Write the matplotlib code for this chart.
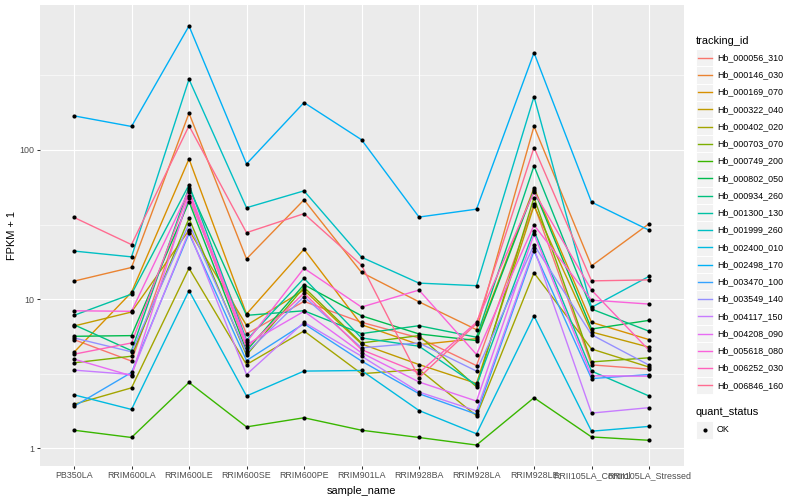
import matplotlib
matplotlib.use("Agg")
import matplotlib.pyplot as plt
import numpy as np
from matplotlib.patches import Rectangle
from matplotlib.lines import Line2D

plt.rcParams['font.family'] = ['Liberation Sans', 'DejaVu Sans']

samples = ["PB350LA", "RRIM600LA", "RRIM600LE", "RRIM600SE", "RRIM600PE",
           "RRIM901LA", "RRIM928BA", "RRIM928LA", "RRIM928LE",
           "RRII105LA_Control", "RRII105LA_Stressed"]

tracking_ids = ["Hb_000056_310", "Hb_000146_030", "Hb_000169_070", "Hb_000322_040",
                "Hb_000402_020", "Hb_000703_070", "Hb_000749_200", "Hb_000802_050",
                "Hb_000934_260", "Hb_001300_130", "Hb_001999_260", "Hb_002400_010",
                "Hb_002498_170", "Hb_003470_100", "Hb_003549_140", "Hb_004117_150",
                "Hb_004208_090", "Hb_005618_080", "Hb_006252_030", "Hb_006846_160"]

# FPKM + 1 per sample (order of `samples`)
hb_000056_310 = [5.35, 3.84, 47.3, 5.84, 9.65, 6.99, 5.49, 3.58, 43.1, 3.62, 3.39]
hb_000146_030 = [13.2, 16.3, 176.6, 18.6, 46.3, 15.1, 9.59, 6.24, 144.2, 16.7, 32.0]
hb_000169_070 = [4.40, 11.1, 87.1, 7.94, 21.6, 6.73, 4.95, 5.43, 55.7, 6.99, 5.35]
hb_000322_040 = [6.60, 8.19, 29.0, 6.67, 11.5, 5.00, 3.64, 2.72, 42.3, 6.02, 4.76]
hb_000402_020 = [1.97, 2.54, 16.1, 3.64, 6.11, 3.16, 3.37, 1.65, 15.0, 4.63, 3.50]
hb_000703_070 = [3.74, 4.14, 34.8, 4.21, 12.0, 5.08, 5.69, 2.58, 48.0, 3.79, 4.04]
hb_000749_200 = [1.32, 1.18, 2.76, 1.39, 1.60, 1.32, 1.18, 1.05, 2.18, 1.19, 1.13]
hb_000802_050 = [5.63, 5.69, 45.1, 4.51, 12.5, 7.73, 5.84, 5.27, 54.1, 6.30, 7.20]
hb_000934_260 = [6.73, 4.51, 56.0, 7.78, 8.35, 5.87, 6.63, 5.55, 78.2, 8.58, 6.09]
hb_001300_130 = [7.78, 10.8, 58.4, 5.30, 13.8, 5.49, 4.83, 2.65, 28.8, 3.29, 2.24]
hb_001999_260 = [21.0, 19.2, 298.0, 41.0, 53.2, 19.1, 12.8, 12.3, 228.0, 8.80, 14.2]
hb_002400_010 = [2.28, 1.82, 11.4, 2.24, 3.29, 3.32, 1.79, 1.25, 7.70, 1.30, 1.40]
hb_002498_170 = [169.4, 143.8, 679.0, 80.6, 208.0, 117.2, 35.5, 40.1, 449.0, 44.7, 29.0]
hb_003470_100 = [1.91, 3.22, 27.6, 3.87, 6.84, 3.84, 2.32, 1.69, 21.1, 2.93, 3.12]
hb_003549_140 = [5.49, 4.43, 31.9, 4.36, 10.4, 4.71, 5.08, 3.29, 23.1, 5.77, 3.61]
hb_004117_150 = [3.34, 3.12, 28.5, 3.12, 6.99, 4.14, 2.38, 1.78, 21.9, 1.72, 1.87]
hb_004208_090 = [3.96, 3.06, 49.5, 4.95, 8.28, 4.36, 2.78, 2.07, 27.3, 3.06, 3.04]
hb_005618_080 = [8.35, 8.28, 53.5, 5.14, 16.1, 8.84, 11.5, 4.25, 31.4, 9.85, 9.26]
hb_006252_030 = [4.27, 5.08, 51.9, 4.71, 10.96, 4.58, 3.20, 6.99, 52.4, 11.5, 4.54]
hb_006846_160 = [35.3, 23.2, 145.3, 27.9, 37.4, 16.9, 2.97, 6.84, 103.9, 13.25, 13.45]

series = [hb_000056_310, hb_000146_030, hb_000169_070, hb_000322_040, hb_000402_020,
          hb_000703_070, hb_000749_200, hb_000802_050, hb_000934_260, hb_001300_130,
          hb_001999_260, hb_002400_010, hb_002498_170, hb_003470_100, hb_003549_140,
          hb_004117_150, hb_004208_090, hb_005618_080, hb_006252_030, hb_006846_160]

colors = ["#F8766D", "#EA8331", "#D89000", "#C09B00", "#A3A500", "#7CAE00", "#39B600",
          "#00BB4E", "#00BF7D", "#00C1A3", "#00BFC4", "#00BAE0", "#00B0F6", "#35A2FF",
          "#9590FF", "#C77CFF", "#E76BF3", "#FA62DB", "#FF62BC", "#FF6C91"]

W, H = 800, 500
fig = plt.figure(figsize=(8, 5), dpi=100)
fig.patch.set_facecolor("white")

def fx(px):
    return px / W

def fy(py):
    return 1 - py / H

PL, PR, PT, PB = 39.5, 683.5, 5.0, 466.0
ax = fig.add_axes([fx(PL), fy(PB), fx(PR - PL), (PB - PT) / H])
ax.set_facecolor("#EBEBEB")
for s in ax.spines.values():
    s.set_visible(False)

x = np.arange(len(samples))
for vals, col in zip(series, colors):
    ax.plot(x, vals, color=col, lw=1.0, solid_joinstyle="round", zorder=3)
for vals in series:
    ax.plot(x, vals, linestyle="none", marker="o", ms=3.0, color="black",
            markeredgewidth=0, zorder=4)

ax.set_yscale("log")
allv = np.log10(np.concatenate([np.asarray(v, float) for v in series]))
lo, hi = allv.min(), allv.max()
pad = 0.05 * (hi - lo)
ax.set_ylim(10 ** (lo - pad), 10 ** (hi + pad))
ax.set_xlim(-0.6, len(samples) - 0.4)

ax.set_yticks([1, 10, 100])
ax.set_yticklabels(["1", "10", "100"])
ax.set_yticks([10 ** 0.5, 10 ** 1.5, 10 ** 2.5], minor=True)
ax.yaxis.set_minor_formatter(matplotlib.ticker.NullFormatter())
ax.set_xticks(x)
ax.set_xticklabels(samples)

ax.grid(which="major", color="white", lw=0.8, zorder=0)
ax.grid(which="minor", axis="y", color="white", lw=0.4, zorder=0)
ax.set_axisbelow(True)
ax.tick_params(which="major", length=2.0, width=0.75, color="#333333",
               labelcolor="#4D4D4D", labelsize=6.4, pad=1.6)
ax.tick_params(which="minor", length=0)

fig.text(fx((PL + PR) / 2), fy(491), "sample_name", ha="center", va="center",
         fontsize=7.9, color="black")
fig.text(fx(12), fy((PT + PB) / 2), "FPKM + 1", ha="center", va="center",
         rotation=90, fontsize=7.9, color="black")

# legend: tracking_id
fig.text(fx(696), fy(40.5), "tracking_id", ha="left", va="center", fontsize=7.9)
key = 17.28
for i, (tid, col) in enumerate(zip(tracking_ids, colors)):
    yc = 57.7 + i * 17.24
    fig.patches.append(Rectangle((fx(696.0), fy(yc + key / 2)), key / W, key / H,
                                 transform=fig.transFigure, facecolor="#F2F2F2",
                                 edgecolor="white", lw=0.7))
    fig.lines.append(Line2D([fx(697.7), fx(711.6)], [fy(yc), fy(yc)],
                            transform=fig.transFigure, color=col, lw=1.0))
    fig.text(fx(717), fy(yc), tid, ha="left", va="center", fontsize=6.4)

# legend: quant_status
fig.text(fx(696), fy(412.3), "quant_status", ha="left", va="center", fontsize=7.9)
yc = 430.0
fig.patches.append(Rectangle((fx(696.0), fy(yc + key / 2)), key / W, key / H,
                             transform=fig.transFigure, facecolor="#F2F2F2",
                             edgecolor="white", lw=0.7))
fig.lines.append(Line2D([fx(704.6)], [fy(yc)], transform=fig.transFigure,
                        linestyle="none", marker="o", ms=3.0, color="black",
                        markeredgewidth=0))
fig.text(fx(717), fy(yc), "OK", ha="left", va="center", fontsize=6.4)

fig.savefig("out.png", dpi=100)
